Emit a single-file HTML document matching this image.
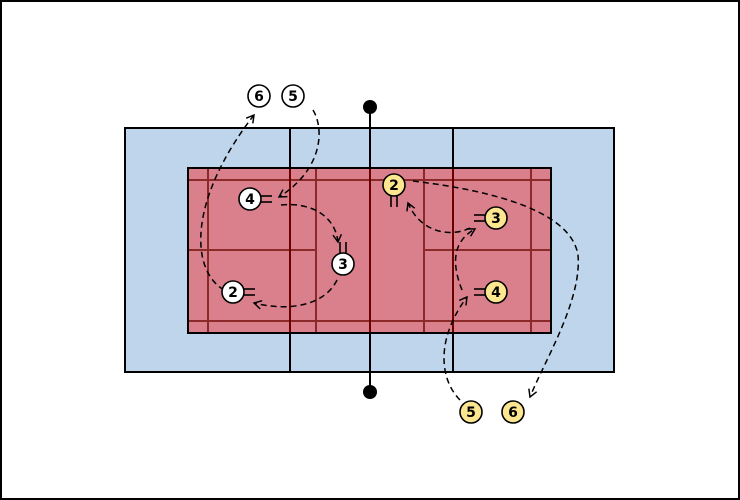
<!DOCTYPE html>
<html><head><meta charset="utf-8"><style>
html,body{margin:0;padding:0;background:#fff}
svg{display:block}
text{font-family:"DejaVu Sans","Liberation Sans",sans-serif;font-weight:bold;font-size:14px}
</style></head><body>
<svg width="740" height="500" viewBox="0 0 740 500" xmlns="http://www.w3.org/2000/svg">
<defs>
<marker id="ah" viewBox="0 0 10 10" refX="8" refY="5" markerWidth="7" markerHeight="7" orient="auto-start-reverse">
<path d="M1,1 L8,5 L1,9" fill="none" stroke="#000" stroke-width="1.4"/>
</marker>
</defs>
<rect x="1" y="1" width="738" height="498" fill="#fff" stroke="#000" stroke-width="2"/>
<rect x="125" y="128" width="489" height="244" fill="#bed5ec" stroke="#000" stroke-width="2"/>
<line x1="290" y1="128" x2="290" y2="372" stroke="#000" stroke-width="2"/>
<line x1="453" y1="128" x2="453" y2="372" stroke="#000" stroke-width="2"/>
<rect x="188" y="168" width="363" height="165" fill="#d9808c"/>
<g stroke="#8c2a2a" stroke-width="2">
<line x1="188" y1="180" x2="551" y2="180"/>
<line x1="188" y1="321" x2="551" y2="321"/>
<line x1="208" y1="168" x2="208" y2="333"/>
<line x1="531" y1="168" x2="531" y2="333"/>
<line x1="316" y1="168" x2="316" y2="333"/>
<line x1="424" y1="168" x2="424" y2="333"/>
<line x1="188" y1="250" x2="316" y2="250"/>
<line x1="424" y1="250" x2="551" y2="250"/>
</g>
<line x1="290" y1="168" x2="290" y2="333" stroke="#6a0000" stroke-width="2"/>
<line x1="453" y1="168" x2="453" y2="333" stroke="#6a0000" stroke-width="2"/>
<line x1="370" y1="107" x2="370" y2="168" stroke="#000" stroke-width="2"/>
<line x1="370" y1="168" x2="370" y2="333" stroke="#6a0000" stroke-width="2"/>
<line x1="370" y1="333" x2="370" y2="392" stroke="#000" stroke-width="2"/>
<rect x="188" y="168" width="363" height="165" fill="none" stroke="#000" stroke-width="2"/>
<circle cx="370" cy="107" r="7" fill="#000"/>
<circle cx="370" cy="392" r="7" fill="#000"/>

<g fill="none" stroke="#000" stroke-width="1.5" stroke-dasharray="6,4" marker-end="url(#ah)">
<path d="M313,110 C325,130 322,170 279,197"/>
<path d="M281,205 C310,202 335,215 338,242"/>
<path d="M337,280 C325,305 290,312 254,303"/>
<path d="M224,290 C190,270 188,200 254,115"/>
<path d="M413,181 C470,188 570,205 578,255 C582,300 545,360 530,397"/>
<path d="M470,228 C450,238 420,232 408,203"/>
<path d="M462,290 C450,260 455,240 475,229"/>
<path d="M460,400 C440,380 435,340 467,297"/>
</g>

<g stroke="#000" stroke-width="1.6">
<line x1="261" y1="196" x2="272" y2="196"/><line x1="261" y1="202" x2="272" y2="202"/>
<line x1="340" y1="242" x2="340" y2="253"/><line x1="346" y1="242" x2="346" y2="253"/>
<line x1="244" y1="289" x2="255" y2="289"/><line x1="244" y1="295" x2="255" y2="295"/>
<line x1="391" y1="196" x2="391" y2="207"/><line x1="397" y1="196" x2="397" y2="207"/>
<line x1="474" y1="215" x2="485" y2="215"/><line x1="474" y1="221" x2="485" y2="221"/>
<line x1="474" y1="289" x2="485" y2="289"/><line x1="474" y1="295" x2="485" y2="295"/>
</g>
<g stroke="#000" stroke-width="1.6">
<circle cx="259" cy="96" r="11" fill="#fff"/>
<circle cx="293" cy="96" r="11" fill="#fff"/>
<circle cx="250" cy="199" r="11" fill="#fff"/>
<circle cx="343" cy="264" r="11" fill="#fff"/>
<circle cx="233" cy="292" r="11" fill="#fff"/>
<circle cx="394" cy="185" r="11" fill="#fce68f"/>
<circle cx="496" cy="218" r="11" fill="#fce68f"/>
<circle cx="496" cy="292" r="11" fill="#fce68f"/>
<circle cx="471" cy="412" r="11" fill="#fce68f"/>
<circle cx="513" cy="412" r="11" fill="#fce68f"/>
</g>
<g text-anchor="middle" fill="#000">
<text x="259" y="101">6</text>
<text x="293" y="101">5</text>
<text x="250" y="204">4</text>
<text x="343" y="269">3</text>
<text x="233" y="297">2</text>
<text x="394" y="190">2</text>
<text x="496" y="223">3</text>
<text x="496" y="297">4</text>
<text x="471" y="417">5</text>
<text x="513" y="417">6</text>
</g>
</svg>
</body></html>
